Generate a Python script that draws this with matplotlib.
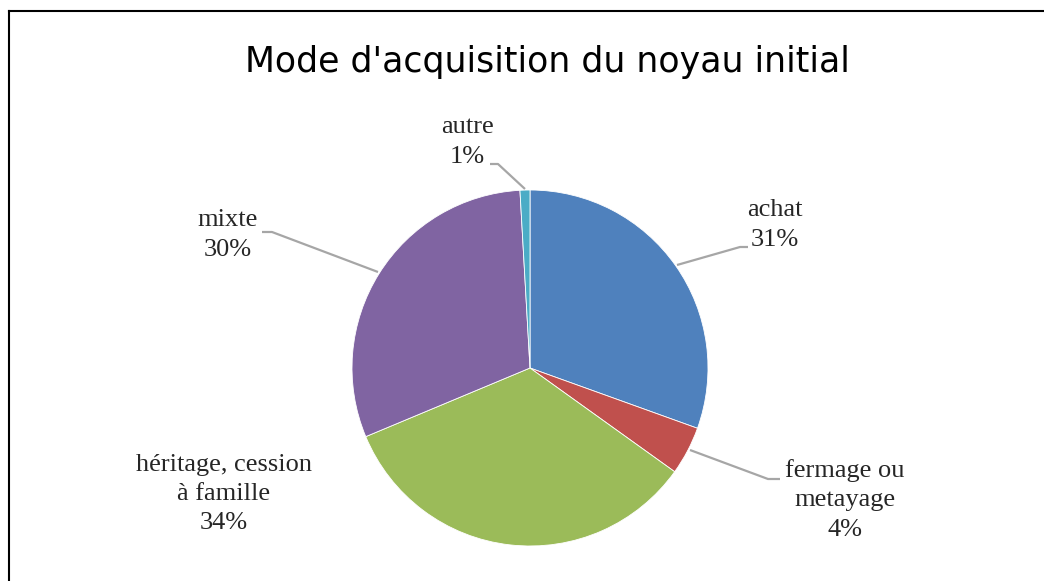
import matplotlib.pyplot as plt
from matplotlib.lines import Line2D

title = "Mode d'acquisition du noyau initial"
labels = ["achat", "fermage ou\nmetayage", "héritage, cession\nà famille", "mixte", "autre"]
values = [30.5, 4.4, 33.8, 30.4, 0.9]
pct_text = ["31%", "4%", "34%", "30%", "1%"]
colors = ["#4F81BD", "#C0504D", "#9BBB59", "#8064A2", "#4BACC6"]

W, H = 1044, 581
fig = plt.figure(figsize=(W / 100, H / 100), dpi=100)
ax = fig.add_axes([0, 0, 1, 1])

# pie in pixel coords (y measured from bottom)
cx, cy, r = 530, H - 368, 178
ax.pie(values, colors=colors, startangle=90, counterclock=False,
       center=(cx, cy), radius=r, frame=True,
       wedgeprops=dict(edgecolor="white", linewidth=0.6))
ax.set_xlim(0, W)
ax.set_ylim(0, H)
ax.axis("off")

# label positions (text centre, top-origin pixels) and leader lines
lab_pos = [(775, 225), (845, 500), (224, 494), (228, 235), (467, 142)]
leaders = [
    [(677, 265), (740, 247), (748, 247)],
    [(690, 450), (768, 479), (780, 479)],
    None,
    [(378, 272), (272, 232), (262, 232)],
    [(525, 189), (498, 164), (490, 164)],
]
for lab, pct, (x, y), ld in zip(labels, pct_text, lab_pos, leaders):
    ax.text(x, H - y, lab + "\n" + pct, ha="center", va="center",
            fontsize=19, family="Liberation Serif", color="#262626",
            linespacing=1.42)
    if ld:
        ax.plot([p[0] for p in ld], [H - p[1] for p in ld],
                color="#A6A6A6", lw=1.6, solid_capstyle="butt")

ax.text(547, H - 62, title, ha="center", va="center", fontsize=25,
        family="DejaVu Sans", color="black")

# chart frame (left and top edges visible)
fig.add_artist(Line2D([9 / W, 9 / W], [0, 1 - 11 / H], color="black", lw=1.5))
fig.add_artist(Line2D([9 / W, 1], [1 - 11 / H, 1 - 11 / H], color="black", lw=1.5))

fig.savefig("out.png", dpi=100, facecolor="white")
